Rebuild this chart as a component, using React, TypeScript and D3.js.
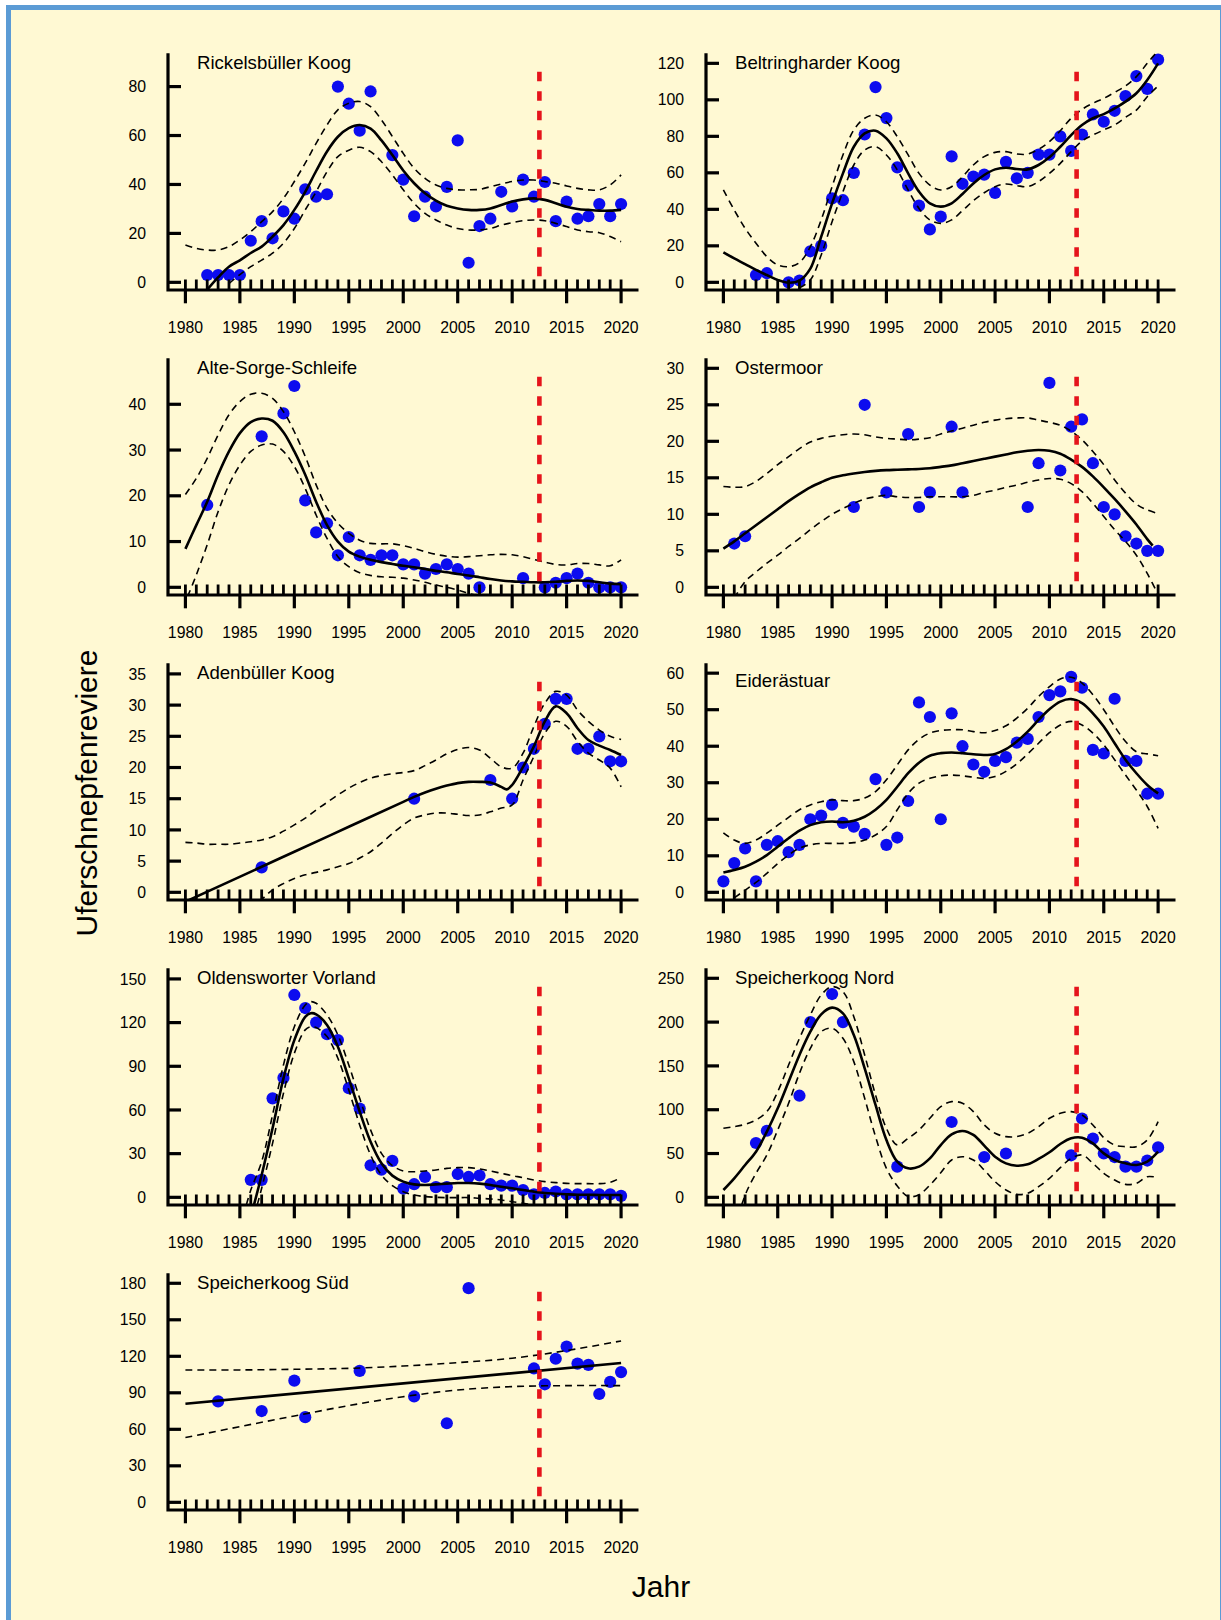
import React from "react";
import * as d3 from "d3";

type Pt = [number, number];

// ---------- labels ----------
const panelNames = [
  "Rickelsbüller Koog",
  "Beltringharder Koog",
  "Alte-Sorge-Schleife",
  "Ostermoor",
  "Adenbüller Koog",
  "Eiderästuar",
  "Oldensworter Vorland",
  "Speicherkoog Nord",
  "Speicherkoog Süd",
];
const xLabel = "Jahr";
const yLabel = "Uferschnepfenreviere";
const xMajorYears = [1980, 1985, 1990, 1995, 2000, 2005, 2010, 2015, 2020];
const xMinorYears = d3.range(1980, 2021);
const xDomain: [number, number] = [1978.4, 2021.6];
const breakYear = 2012.5;

// ---------- y ticks & domains ----------
const rickTicks = [0, 20, 40, 60, 80];
const beltTicks = [0, 20, 40, 60, 80, 100, 120];
const alteTicks = [0, 10, 20, 30, 40];
const osterTicks = [0, 5, 10, 15, 20, 25, 30];
const adenTicks = [0, 5, 10, 15, 20, 25, 30, 35];
const eiderTicks = [0, 10, 20, 30, 40, 50, 60];
const oldenTicks = [0, 30, 60, 90, 120, 150];
const nordTicks = [0, 50, 100, 150, 200, 250];
const suedTicks = [0, 30, 60, 90, 120, 150, 180];

const rickDomain: [number, number] = [-3.13, 93.6];
const beltDomain: [number, number] = [-4.2, 125.5];
const alteDomain: [number, number] = [-1.68, 50.05];
const osterDomain: [number, number] = [-1.05, 31.37];
const adenDomain: [number, number] = [-1.23, 36.7];
const eiderDomain: [number, number] = [-2.1, 62.7];
const oldenDomain: [number, number] = [-5.27, 157.3];
const nordDomain: [number, number] = [-8.75, 261.4];
const suedDomain: [number, number] = [-6.3, 188.2];

// ---------- 1 Rickelsbüller Koog ----------
const rickPoints: Pt[] = [[1982,3],[1983,3],[1984,3],[1985,3],[1986,17],[1987,25],[1988,18],[1989,29],[1990,26],[1991,38],[1992,35],[1993,36],[1994,80],[1995,73],[1996,62],[1997,78],[1999,52],[2000,42],[2001,27],[2002,35],[2003,31],[2004,39],[2005,58],[2006,8],[2007,23],[2008,26],[2009,37],[2010,31],[2011,42],[2012,35],[2013,41],[2014,25],[2015,33],[2016,26],[2017,27],[2018,32],[2019,27],[2020,32]];
const rickFit: Pt[] = [[1982,-3],[1983,2],[1984,6.4],[1985,9],[1986,12],[1987,14.6],[1988,18.7],[1989,23.4],[1990,29.6],[1991,37],[1992,45.5],[1993,53.5],[1994,59.5],[1995,63],[1996,64.3],[1997,62.8],[1998,58],[1999,52],[2000,45.7],[2001,40.5],[2002,36.4],[2003,33.4],[2004,31.3],[2005,30.2],[2006,29.6],[2007,29.6],[2008,30.2],[2009,31.6],[2010,33],[2011,33.9],[2012,34.3],[2013,33.7],[2014,32.3],[2015,30.9],[2016,30],[2017,29.6],[2018,29.3],[2019,29.3],[2020,29.6]];
const rickUpper: Pt[] = [[1980,15.3],[1981,13.9],[1982,13.2],[1983,13.2],[1984,14.6],[1985,17.3],[1986,20.7],[1987,24.8],[1988,28.9],[1989,34.3],[1990,41.2],[1991,48.7],[1992,56.8],[1993,64.3],[1994,70.5],[1995,73.2],[1996,73.9],[1997,71.8],[1998,66.4],[1999,59.6],[2000,52.7],[2001,46.6],[2002,42.5],[2003,39.8],[2004,38.4],[2005,37.8],[2006,37.8],[2007,38],[2008,39.1],[2009,40.2],[2010,41.2],[2011,41.8],[2012,41.8],[2013,41.2],[2014,40.5],[2015,39.4],[2016,38.4],[2017,37.8],[2018,37.8],[2019,39.8],[2020,43.9]];
const rickLower: Pt[] = [[1984,-0.5],[1985,3.2],[1986,6.4],[1987,9.1],[1988,11.9],[1989,16],[1990,22],[1991,29.6],[1992,37],[1993,45.2],[1994,51.4],[1995,54],[1996,55.2],[1997,53.4],[1998,49.3],[1999,43.9],[2000,37.8],[2001,32.3],[2002,28.2],[2003,25.5],[2004,23.4],[2005,22],[2006,21.4],[2007,21.4],[2008,22],[2009,23.4],[2010,24.4],[2011,25.2],[2012,25.5],[2013,25.2],[2014,24.1],[2015,22.8],[2016,21.4],[2017,20.7],[2018,20.3],[2019,18.7],[2020,16.6]];

// ---------- 2 Beltringharder Koog ----------
const beltPoints: Pt[] = [[1983,4],[1984,5],[1986,0],[1987,1],[1988,17],[1989,20],[1990,46],[1991,45],[1992,60],[1993,81],[1994,107],[1995,90],[1996,63],[1997,53],[1998,42],[1999,29],[2000,36],[2001,69],[2002,54],[2003,58],[2004,59],[2005,49],[2006,66],[2007,57],[2008,60],[2009,70],[2010,70],[2011,80],[2012,72],[2013,81],[2014,92],[2015,88],[2016,94],[2017,102],[2018,113],[2019,106],[2020,122]];
const beltFit: Pt[] = [[1980,16.4],[1981,13.1],[1982,10],[1983,6.8],[1984,4],[1985,1.3],[1986,-0.2],[1987,1],[1988,7.5],[1989,25],[1990,43.3],[1991,59.7],[1992,74.3],[1993,81.6],[1994,83.1],[1995,78.9],[1996,70.7],[1997,59.7],[1998,49.7],[1999,43.3],[2000,41.5],[2001,43.3],[2002,48.4],[2003,54.2],[2004,58.8],[2005,61.9],[2006,62.8],[2007,62.1],[2008,61.9],[2009,64.3],[2010,68.5],[2011,74.3],[2012,80.7],[2013,86.2],[2014,89.9],[2015,92.2],[2016,95.3],[2017,99],[2018,103.6],[2019,110.9],[2020,120]];
const beltUpper: Pt[] = [[1980,50.6],[1981,39.6],[1982,29.6],[1983,21.4],[1984,14.1],[1985,9.5],[1986,8.6],[1987,10.8],[1988,19.5],[1989,34.2],[1990,52.4],[1991,69.8],[1992,83.5],[1993,89.9],[1994,91.7],[1995,88],[1996,79.8],[1997,69.8],[1998,59.7],[1999,53.3],[2000,50.6],[2001,52.4],[2002,57.9],[2003,64.3],[2004,68.9],[2005,71.2],[2006,71.6],[2007,70.3],[2008,70.3],[2009,72.9],[2010,77.1],[2011,83.1],[2012,89.9],[2013,94.8],[2014,98.1],[2015,100.8],[2016,104.1],[2017,107.6],[2018,112.7],[2019,120],[2020,127]];
const beltLower: Pt[] = [[1987,-3],[1988,1.3],[1989,15],[1990,33.2],[1991,49.7],[1992,64.3],[1993,72.5],[1994,74.3],[1995,69.8],[1996,61.6],[1997,50.6],[1998,40.5],[1999,34.2],[2000,32.3],[2001,34.2],[2002,39.3],[2003,44.7],[2004,49.1],[2005,52.4],[2006,53.9],[2007,53],[2008,52.4],[2009,55.2],[2010,59.7],[2011,65.2],[2012,71.6],[2013,77.4],[2014,80.7],[2015,83.5],[2016,86.2],[2017,90.4],[2018,94.4],[2019,101.7],[2020,107.6]];

// ---------- 3 Alte-Sorge-Schleife ----------
const altePoints: Pt[] = [[1982,18],[1987,33],[1989,38],[1990,44],[1991,19],[1992,12],[1993,14],[1994,7],[1995,11],[1996,7],[1997,6],[1998,7],[1999,7],[2000,5],[2001,5],[2002,3],[2003,4],[2004,5],[2005,4],[2006,3],[2007,0],[2011,2],[2013,0],[2014,1],[2015,2],[2016,3],[2017,1],[2018,0],[2019,0],[2020,0]];
const alteFit: Pt[] = [[1980,8.4],[1981,13.6],[1982,18.7],[1983,24.6],[1984,29.7],[1985,33.7],[1986,36.1],[1987,36.9],[1988,36.4],[1989,33.9],[1990,29.7],[1991,24.6],[1992,18.7],[1993,13.6],[1994,10],[1995,7.8],[1996,6.7],[1997,6],[1998,5.5],[1999,5.1],[2000,4.7],[2001,4.4],[2002,4],[2003,3.6],[2004,3.3],[2005,2.9],[2006,2.6],[2007,2.2],[2008,1.8],[2009,1.5],[2010,1.3],[2011,1.2],[2012,1.1],[2013,1.1],[2014,1.2],[2015,1.4],[2016,1.5],[2017,1.4],[2018,1.1],[2019,0.8],[2020,0.7]];
const alteUpper: Pt[] = [[1980,20.3],[1981,23.8],[1982,28.2],[1983,33.3],[1984,37.7],[1985,40.6],[1986,42.2],[1987,42.4],[1988,41.3],[1989,38.4],[1990,34],[1991,28.6],[1992,22.4],[1993,17.3],[1994,14],[1995,11.8],[1996,10.3],[1997,9.6],[1998,9.5],[1999,9.5],[2000,9.1],[2001,8.5],[2002,7.8],[2003,7.2],[2004,6.8],[2005,6.6],[2006,6.7],[2007,6.9],[2008,7.1],[2009,7.2],[2010,7.1],[2011,6.7],[2012,6.1],[2013,5.5],[2014,5],[2015,4.9],[2016,5.2],[2017,5.2],[2018,4.9],[2019,4.7],[2020,6]];
const alteLower: Pt[] = [[1980.2,-2],[1981,2.7],[1982,9.3],[1983,16.5],[1984,22.4],[1985,26.7],[1986,29.7],[1987,31.1],[1988,31.3],[1989,29.7],[1990,26.4],[1991,21.6],[1992,15.8],[1993,10.7],[1994,6.7],[1995,4.5],[1996,3.2],[1997,2.6],[1998,2.3],[1999,2.2],[2000,2],[2001,1.6],[2002,1.1],[2003,0.5],[2004,0],[2005,-0.6],[2006,-1.3],[2007,-2]];

// ---------- 4 Ostermoor ----------
const osterPoints: Pt[] = [[1981,6],[1982,7],[1992,11],[1993,25],[1995,13],[1997,21],[1998,11],[1999,13],[2001,22],[2002,13],[2008,11],[2009,17],[2010,28],[2011,16],[2012,22],[2013,23],[2014,17],[2015,11],[2016,10],[2017,7],[2018,6],[2019,5],[2020,5]];
const osterFit: Pt[] = [[1980,5.3],[1981,6.3],[1982,7.4],[1983,8.5],[1984,9.6],[1985,10.7],[1986,11.8],[1987,12.8],[1988,13.7],[1989,14.4],[1990,15],[1991,15.35],[1992,15.6],[1993,15.8],[1994,15.95],[1995,16.05],[1996,16.1],[1997,16.15],[1998,16.2],[1999,16.3],[2000,16.5],[2001,16.7],[2002,17],[2003,17.3],[2004,17.6],[2005,17.9],[2006,18.2],[2007,18.5],[2008,18.7],[2009,18.8],[2010,18.7],[2011,18.3],[2012,17.5],[2013,16.5],[2014,15.2],[2015,13.7],[2016,12.1],[2017,10.4],[2018,8.6],[2019,6.6],[2019.5,5.7]];
const osterUpper: Pt[] = [[1980,13.8],[1981,13.7],[1982,13.8],[1983,14.5],[1984,15.6],[1985,16.8],[1986,17.9],[1987,19],[1988,19.9],[1989,20.4],[1990,20.7],[1991,20.9],[1992,21],[1993,20.9],[1994,20.6],[1995,20.4],[1996,20.3],[1997,20.2],[1998,20.3],[1999,20.5],[2000,21],[2001,21.4],[2002,21.8],[2003,22.2],[2004,22.6],[2005,22.9],[2006,23.1],[2007,23.2],[2008,23.2],[2009,22.9],[2010,22.6],[2011,22.2],[2012,21.4],[2013,20.2],[2014,18.6],[2015,16.8],[2016,14.7],[2017,12.9],[2018,11.4],[2019,10.6],[2020,10.1]];
const osterLower: Pt[] = [[1981,-1.5],[1982,0.8],[1983,2.1],[1984,3.3],[1985,4.4],[1986,5.6],[1987,6.7],[1988,7.9],[1989,9],[1990,10],[1991,10.8],[1992,11.5],[1993,12.1],[1994,12.4],[1995,12.6],[1996,12.4],[1997,12.3],[1998,12.3],[1999,12.4],[2000,12.4],[2001,12.4],[2002,12.4],[2003,12.6],[2004,13],[2005,13.3],[2006,13.7],[2007,14],[2008,14.4],[2009,14.7],[2010,14.9],[2011,14.8],[2012,14.2],[2013,13.1],[2014,11.5],[2015,9.7],[2016,7.9],[2017,6.3],[2018,4.4],[2019,1.9],[2020,-1]];

// ---------- 5 Adenbüller Koog ----------
const adenPoints: Pt[] = [[1987,4],[2001,15],[2008,18],[2010,15],[2011,20],[2012,23],[2013,27],[2014,31],[2015,31],[2016,23],[2017,23],[2018,25],[2019,21],[2020,21]];
const adenFit: Pt[] = [[1980,-1.5],[1987,4.1],[1990,6.5],[1995,10.5],[2000,14.5],[2001,15.3],[2002,16],[2003,16.6],[2004,17.1],[2005,17.5],[2006,17.7],[2007,17.7],[2008,17.6],[2009,16.9],[2009.5,16.5],[2010,17.2],[2011,20.1],[2012,23.4],[2013,27.4],[2014,29.8],[2015,28.7],[2016,26.3],[2017,24.4],[2018,23.5],[2019,22.8],[2020,22]];
const adenUpper: Pt[] = [[1980,8],[1981,7.9],[1982,7.7],[1983,7.7],[1984,7.7],[1985,7.9],[1986,8.1],[1987,8.4],[1988,8.9],[1989,9.8],[1990,10.8],[1991,11.9],[1992,13.2],[1993,14.4],[1994,15.6],[1995,16.7],[1996,17.6],[1997,18.3],[1998,18.7],[1999,19],[2000,19.2],[2001,19.5],[2002,20.3],[2003,21.2],[2004,22.2],[2005,22.9],[2006,23.2],[2007,22.8],[2008,21.5],[2009,20.1],[2010,19.9],[2011,22.3],[2012,26.6],[2013,30.3],[2014,32.2],[2015,31.6],[2016,29.2],[2017,27.4],[2018,26],[2019,25],[2020,24.5]];
const adenLower: Pt[] = [[1986.8,-1.5],[1988,0.4],[1989,1.4],[1990,2.2],[1991,2.8],[1992,3.2],[1993,3.6],[1994,4.1],[1995,4.6],[1996,5.5],[1997,6.5],[1998,7.9],[1999,9.4],[2000,10.8],[2001,11.9],[2002,12.4],[2003,12.7],[2004,12.7],[2005,12.5],[2006,12.3],[2007,12.4],[2008,12.9],[2009,13.5],[2010,14],[2011,18],[2012,21.8],[2013,25.5],[2014,27.4],[2015,26.6],[2016,24.2],[2017,22.3],[2018,21.2],[2019,19.9],[2020,16.9]];

// ---------- 6 Eiderästuar ----------
const eiderPoints: Pt[] = [[1980,3],[1981,8],[1982,12],[1983,3],[1984,13],[1985,14],[1986,11],[1987,13],[1988,20],[1989,21],[1990,24],[1991,19],[1992,18],[1993,16],[1994,31],[1995,13],[1996,15],[1997,25],[1998,52],[1999,48],[2000,20],[2001,49],[2002,40],[2003,35],[2004,33],[2005,36],[2006,37],[2007,41],[2008,42],[2009,48],[2010,54],[2011,55],[2012,59],[2013,56],[2014,39],[2015,38],[2016,53],[2017,36],[2018,36],[2019,27],[2020,27]];
const eiderFit: Pt[] = [[1980,5.4],[1981,6.1],[1982,7],[1983,8.4],[1984,10.2],[1985,12.5],[1986,14.8],[1987,16.9],[1988,18.4],[1989,19.2],[1990,19.4],[1991,19.2],[1992,19.6],[1993,20.7],[1994,22.6],[1995,25.3],[1996,28.9],[1997,32.6],[1998,35.5],[1999,37.4],[2000,38.1],[2001,38.3],[2002,38.1],[2003,37.8],[2004,37.6],[2005,37.9],[2006,39.2],[2007,41.3],[2008,44],[2009,47.2],[2010,50.1],[2011,52.2],[2012,52.9],[2013,51.8],[2014,49],[2015,45.4],[2016,40.8],[2017,36.3],[2018,32.6],[2019,29.4],[2020,27.1]];
const eiderUpper: Pt[] = [[1980,16.3],[1981,14.3],[1982,13.4],[1983,14.3],[1984,16.2],[1985,18.4],[1986,20.5],[1987,22.6],[1988,23.9],[1989,24.8],[1990,25.3],[1991,25.1],[1992,25.1],[1993,25.8],[1994,27.6],[1995,30.8],[1996,34.9],[1997,39],[1998,41.9],[1999,43.6],[2000,44.3],[2001,44.5],[2002,44.5],[2003,44],[2004,43.7],[2005,44.3],[2006,45.6],[2007,47.7],[2008,50.4],[2009,53.6],[2010,56.3],[2011,58.4],[2012,58.9],[2013,57.3],[2014,54.1],[2015,50],[2016,45.4],[2017,41.3],[2018,38.5],[2019,37.9],[2020,37.4]];
const eiderLower: Pt[] = [[1981,-1.5],[1982,0.6],[1983,2.7],[1984,5.2],[1985,7.9],[1986,10.2],[1987,12.1],[1988,13],[1989,13.4],[1990,13.4],[1991,13.4],[1992,13.6],[1993,14.3],[1994,15.7],[1995,18],[1996,22.6],[1997,27.1],[1998,29.9],[1999,31.2],[2000,31.9],[2001,32.1],[2002,31.9],[2003,31.5],[2004,31.2],[2005,31.7],[2006,33.1],[2007,35.2],[2008,37.9],[2009,40.8],[2010,43.7],[2011,45.8],[2012,46.8],[2013,45.8],[2014,43.6],[2015,40.4],[2016,36.3],[2017,32.1],[2018,28],[2019,23.5],[2020,17.5]];

// ---------- 7 Oldensworter Vorland ----------
const oldenPoints: Pt[] = [[1986,12],[1987,12],[1988,68],[1989,82],[1990,139],[1991,130],[1992,120],[1993,112],[1994,108],[1995,75],[1996,61],[1997,22],[1998,19],[1999,25],[2000,6],[2001,9],[2002,14],[2003,7],[2004,7],[2005,16],[2006,14],[2007,15],[2008,9],[2009,8],[2010,8],[2011,5],[2012,2],[2013,3],[2014,4],[2015,2],[2016,2],[2017,2],[2018,2],[2019,2],[2020,1]];
const oldenFit: Pt[] = [[1986.3,-5],[1987,15.3],[1988,47.4],[1989,81.7],[1990,108],[1991,124],[1991.5,126.4],[1992,125.7],[1993,118.4],[1994,103.5],[1995,81.7],[1996,58.9],[1997,38.2],[1998,23.4],[1999,14.9],[2000,10.8],[2001,8.9],[2002,8.5],[2003,8.9],[2004,9.4],[2005,9.8],[2006,9.8],[2007,9.4],[2008,8.5],[2009,7.3],[2010,6.2],[2011,5],[2012,3.9],[2013,3],[2014,2.5],[2015,2.1],[2016,1.8],[2017,1.8],[2018,1.6],[2019,1.6],[2020,1.6]];
const oldenUpper: Pt[] = [[1985.6,-5],[1986,5],[1987,24.5],[1988,56.6],[1989,90.9],[1990,117.2],[1991,132.1],[1991.5,134.4],[1992,133.3],[1993,125.3],[1994,111.5],[1995,90.9],[1996,68],[1997,46.3],[1998,30.2],[1999,21.8],[2000,18.1],[2001,17.6],[2002,18.1],[2003,18.8],[2004,19.9],[2005,20.4],[2006,20.4],[2007,19.5],[2008,18.1],[2009,16.5],[2010,14.9],[2011,13.5],[2012,11.9],[2013,10.8],[2014,10.1],[2015,9.6],[2016,9.4],[2017,9.4],[2018,9.4],[2019,10.3],[2020,13.5]];
const oldenLower: Pt[] = [[1986.6,-5],[1987,6.2],[1988,37.1],[1989,71.4],[1990,98.9],[1991,115],[1991.5,117.2],[1992,116.6],[1993,110.4],[1994,95.5],[1995,73.7],[1996,49.7],[1997,29.1],[1998,15.3],[1999,8],[2000,3.9],[2001,1.6],[2002,0.5],[2003,0],[2004,-0.2],[2005,-0.2],[2006,-0.2],[2007,-0.7],[2008,-1.1],[2009,-1.8],[2010,-3],[2011,-4.1],[2012,-5.3]];

// ---------- 8 Speicherkoog Nord ----------
const nordPoints: Pt[] = [[1983,62],[1984,76],[1987,116],[1988,200],[1990,232],[1991,200],[1996,35],[2001,86],[2004,46],[2006,50],[2012,48],[2013,90],[2014,67],[2015,50],[2016,46],[2017,35],[2018,35],[2019,42],[2020,57]];
const nordFit: Pt[] = [[1980,8.4],[1981,21.7],[1982,36.9],[1983,52.1],[1984,75],[1985,101.6],[1986,132],[1987,162.5],[1988,189],[1989,208.9],[1990,216.5],[1991,210],[1992,185.3],[1993,147.3],[1994,105.4],[1995,65.4],[1996,40.7],[1997,33.1],[1998,35],[1999,44.5],[2000,59.7],[2001,71.9],[2002,75.7],[2003,71.2],[2004,59],[2005,46.4],[2006,38.8],[2007,36.1],[2008,37.7],[2009,43.8],[2010,51.4],[2011,60.9],[2012,67.4],[2013,68.1],[2014,61.6],[2015,50.2],[2016,42.6],[2017,38.8],[2018,36.9],[2019,40.7],[2020,52.1]];
const nordUpper: Pt[] = [[1980,78.8],[1981,80.7],[1982,83.3],[1983,88.3],[1984,97.8],[1985,120.6],[1986,151],[1987,181.5],[1988,208.1],[1989,231],[1990,240.5],[1991,234.8],[1992,206.2],[1993,162.5],[1994,116.8],[1995,78.8],[1996,59.7],[1997,67.4],[1998,76.9],[1999,90.2],[2000,103.5],[2001,109.2],[2002,107.3],[2003,97.8],[2004,82.6],[2005,73.1],[2006,69.3],[2007,69.3],[2008,73.1],[2009,80.7],[2010,90.2],[2011,95.9],[2012,97.8],[2013,94],[2014,82.6],[2015,68.1],[2016,59.7],[2017,57.8],[2018,57.8],[2019,65.4],[2020,86.4]];
const nordLower: Pt[] = [[1981.7,-8],[1982.2,8.4],[1983,27.4],[1984,48.3],[1985,76.9],[1986,107.3],[1987,141.6],[1988,170.1],[1989,189.1],[1990,192.9],[1991,181.5],[1992,154.9],[1993,113],[1994,69.3],[1995,33.1],[1996,13],[1997,1],[1998,3],[1999,14],[2000,28],[2001,42.6],[2002,46.4],[2003,42.6],[2004,31.2],[2005,17.9],[2006,8.4],[2007,3.4],[2008,4.6],[2009,12.2],[2010,21.7],[2011,33.9],[2012,44.5],[2013,48.3],[2014,38.8],[2015,27.4],[2016,19.8],[2017,14.8],[2018,16],[2019,23.6],[2020,22.5]];

// ---------- 9 Speicherkoog Süd ----------
const suedPoints: Pt[] = [[1983,83],[1987,75],[1990,100],[1991,70],[1996,108],[2001,87],[2004,65],[2006,176],[2012,110],[2013,97],[2014,118],[2015,128],[2016,114],[2017,113],[2018,89],[2019,99],[2020,107]];
const suedFit: Pt[] = [[1980,81],[2020,114.5]];
const suedUpper: Pt[] = [[1980,108.8],[1985,108.8],[1990,109.3],[1995,110.1],[2000,112],[2005,114.8],[2010,118.4],[2015,124.7],[2020,132.6]];
const suedLower: Pt[] = [[1980,53.2],[1985,62.2],[1990,71],[1995,79.5],[2000,86.8],[2005,92.3],[2010,95.1],[2015,95.9],[2020,95.9]];

const panels = [
  { pts: rickPoints, fit: rickFit, up: rickUpper, lo: rickLower, ticks: rickTicks, dom: rickDomain },
  { pts: beltPoints, fit: beltFit, up: beltUpper, lo: beltLower, ticks: beltTicks, dom: beltDomain },
  { pts: altePoints, fit: alteFit, up: alteUpper, lo: alteLower, ticks: alteTicks, dom: alteDomain },
  { pts: osterPoints, fit: osterFit, up: osterUpper, lo: osterLower, ticks: osterTicks, dom: osterDomain },
  { pts: adenPoints, fit: adenFit, up: adenUpper, lo: adenLower, ticks: adenTicks, dom: adenDomain },
  { pts: eiderPoints, fit: eiderFit, up: eiderUpper, lo: eiderLower, ticks: eiderTicks, dom: eiderDomain },
  { pts: oldenPoints, fit: oldenFit, up: oldenUpper, lo: oldenLower, ticks: oldenTicks, dom: oldenDomain },
  { pts: nordPoints, fit: nordFit, up: nordUpper, lo: nordLower, ticks: nordTicks, dom: nordDomain },
  { pts: suedPoints, fit: suedFit, up: suedUpper, lo: suedLower, ticks: suedTicks, dom: suedDomain },
];

// ---------- layout ----------
const W = 1221;
const H = 1620;
const colRange: [number, number][] = [[168, 638.5], [706, 1175.5]];
const rowTop0 = 53.3;
const rowBottom0 = 290;
const rowStep = 305;
const FONT = "'Liberation Sans', Arial, Helvetica, sans-serif";
const AXIS_W = 3.2;

function Panel({ idx }: { idx: number }) {
  const p = panels[idx];
  const col = idx % 2;
  const row = Math.floor(idx / 2);
  const [x0, x1] = colRange[col];
  const top = rowTop0 + row * rowStep;
  const bottom = rowBottom0 + row * rowStep;
  const x = d3.scaleLinear().domain(xDomain).range([x0, x1]);
  const y = d3.scaleLinear().domain(p.dom).range([bottom, top]);
  const line = d3
    .line<Pt>()
    .x((d) => x(d[0]))
    .y((d) => y(d[1]))
    .curve(d3.curveCatmullRom.alpha(0.5));
  const clipId = `clip-${idx}`;
  const titleDy = idx === 5 ? 24 : 16;
  const xb = x(breakYear);
  return (
    <g>
      <defs>
        <clipPath id={clipId}>
          <rect x={x0} y={top} width={x1 - x0} height={bottom - top} />
        </clipPath>
      </defs>
      {/* points */}
      <g>
        {p.pts.map((d, i) => (
          <circle key={i} cx={x(d[0])} cy={y(d[1])} r={6.1} fill="#0c0cef" />
        ))}
      </g>
      {/* fitted curve and confidence band */}
      <g clipPath={`url(#${clipId})`} fill="none">
        <path d={line(p.up) || ""} stroke="#000" strokeWidth={1.6} strokeDasharray="7 5" />
        <path d={line(p.lo) || ""} stroke="#000" strokeWidth={1.6} strokeDasharray="7 5" />
        <path d={line(p.fit) || ""} stroke="#000" strokeWidth={2.6} />
      </g>
      {/* break line */}
      <line
        x1={xb}
        x2={xb}
        y1={top + 18.4}
        y2={bottom - 6.7}
        stroke="#e5141b"
        strokeWidth={4.6}
        strokeDasharray="9.5 10"
      />
      {/* axes */}
      <path
        d={`M${x0},${top}V${bottom}H${x1}`}
        fill="none"
        stroke="#000"
        strokeWidth={AXIS_W}
        strokeLinejoin="miter"
      />
      {p.ticks.map((t) => (
        <g key={t}>
          <line x1={x0} x2={x0 + 13} y1={y(t)} y2={y(t)} stroke="#000" strokeWidth={AXIS_W} />
          <text x={x0 - 22} y={y(t) + 5.6} fontSize={15.8} textAnchor="end" fill="#000">
            {t}
          </text>
        </g>
      ))}
      {xMinorYears.map((yr) => (
        <line key={yr} x1={x(yr)} x2={x(yr)} y1={bottom} y2={bottom - 10.5} stroke="#000" strokeWidth={2.8} />
      ))}
      {xMajorYears.map((yr) => (
        <g key={yr}>
          <line x1={x(yr)} x2={x(yr)} y1={bottom} y2={bottom + 13.3} stroke="#000" strokeWidth={AXIS_W} />
          <text x={x(yr)} y={bottom + 42.5} fontSize={15.8} textAnchor="middle" fill="#000">
            {yr}
          </text>
        </g>
      ))}
      <text x={x0 + 29} y={top + titleDy} fontSize={18.6} fill="#000">
        {panelNames[idx]}
      </text>
    </g>
  );
}

export default function App() {
  return (
    <svg
      width={W}
      height={H}
      viewBox={`0 0 ${W} ${H}`}
      style={{ position: "absolute", left: 0, top: 0, display: "block" }}
      fontFamily={FONT}
    >
      <rect x={0} y={0} width={W} height={H} fill="#ffffff" />
      <rect x={8.5} y={7.5} width={1214} height={1625} fill="#fff9d3" stroke="#5b9bd5" strokeWidth={5} />
      {panels.map((_, i) => (
        <Panel key={i} idx={i} />
      ))}
      <text x={661} y={1597} fontSize={30} textAnchor="middle" fill="#000">
        {xLabel}
      </text>
      <text transform="translate(97,793) rotate(-90)" fontSize={30} textAnchor="middle" fill="#000">
        {yLabel}
      </text>
    </svg>
  );
}
